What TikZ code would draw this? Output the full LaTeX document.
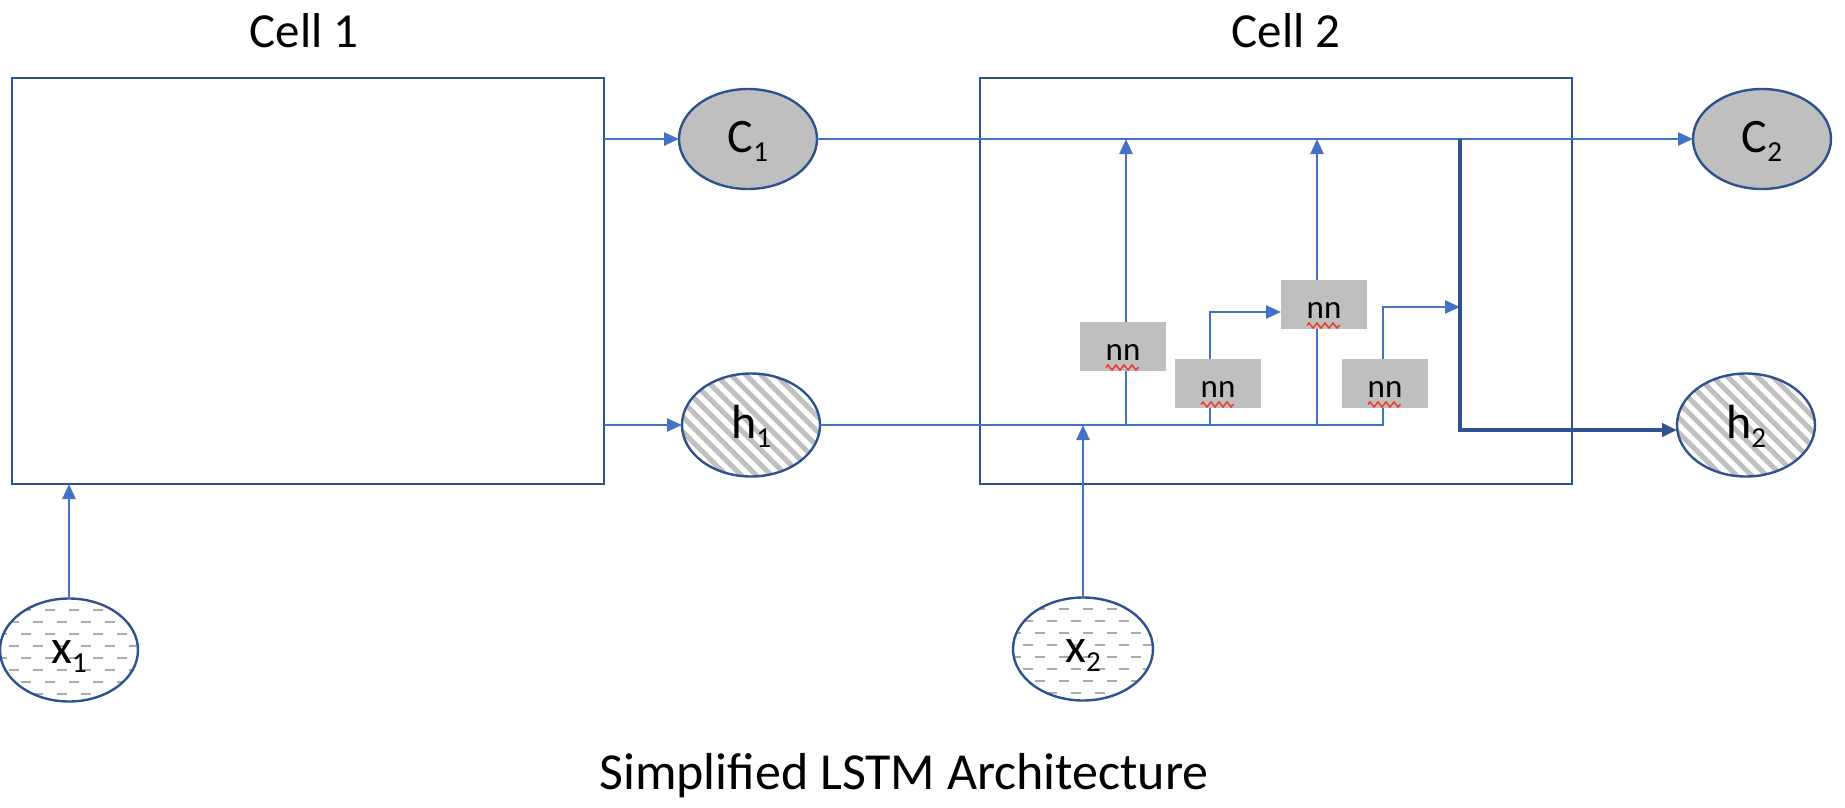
\documentclass[tikz,border=0pt]{standalone}
\usepackage{fontspec}
\setmainfont{Carlito}
\usetikzlibrary{arrows.meta,shapes.geometric,decorations.pathmorphing}
\definecolor{linkc}{RGB}{68,114,196}
\definecolor{bordc}{RGB}{47,82,143}
\definecolor{grayf}{RGB}{191,191,191}
\definecolor{stripec}{RGB}{192,192,192}
\definecolor{dashc}{RGB}{170,170,170}
\definecolor{squigc}{RGB}{232,62,40}
\newcommand\sbs[1]{\raisebox{-9pt}{\fontsize{29}{29}\selectfont #1}}
\begin{document}
\begin{tikzpicture}[x=1pt,y=-1pt,
  cellbox/.style={draw=bordc, line width=2.7pt, rectangle, minimum width=592pt, minimum height=406pt, inner sep=0pt, outer sep=0pt},
  oval/.style={ellipse, draw=bordc, line width=2.4pt, minimum width=138pt, minimum height=103pt, inner sep=0pt, outer sep=0pt, font=\fontsize{48}{50}\selectfont, text height=30pt, text depth=3pt},
  ovalC/.style={oval, fill=grayf, minimum height=100pt},
  ovalH/.style={oval, fill=white, path picture={
      \foreach \k in {-14,...,14}{
        \draw[line width=5pt, stripec] ([xshift=\k*15pt]path picture bounding box.center) ++(-90,-90) -- ++(180,180);}}},
  ovalX/.style={oval, fill=white, path picture={
      \foreach \r in {-4,-2,...,4}{
        \draw[line width=2pt, dashc, dash pattern=on 10pt off 14pt, dash phase=0pt]
          ([yshift={4pt-\r*12pt}]path picture bounding box.center) ++(-84,0) -- ++(168,0);}
      \foreach \r in {-5,-3,...,5}{
        \draw[line width=2pt, dashc, dash pattern=on 10pt off 14pt, dash phase=12pt]
          ([yshift={4pt-\r*12pt}]path picture bounding box.center) ++(-84,0) -- ++(168,0);}}},
  nnbox/.style={rectangle, fill=grayf, minimum width=86pt, minimum height=49pt, inner sep=0pt, outer sep=0pt, font=\fontsize{33}{34}\selectfont, text height=27pt, text depth=0pt},
  link/.style={draw=linkc, line width=2.5pt},
  linkarr/.style={link, -{Triangle[length=15pt,width=13pt]}},
  thicklink/.style={draw=bordc, line width=4.5pt, -{Triangle[length=15pt,width=13pt]}},
  squig/.style={draw=squigc, line width=1.5pt, decorate, decoration={zigzag, segment length=8pt, amplitude=2.5pt}},
  lbl/.style={font=\fontsize{49}{56}\selectfont, anchor=base, inner sep=0pt}
]
\useasboundingbox (0,0) rectangle (1845,808);

% titles
\node[lbl] (t1) at (304,48) {Cell 1};
\node[lbl] (t2) at (1286,48) {Cell 2};
\node[lbl, font=\fontsize{52}{60}\selectfont] (tt) at (904,789) {Simplified LSTM Architecture};

% cells
\node[cellbox] (cell1) at (308,281) {};
\node[cellbox] (cell2) at (1276,281) {};

% ovals
\node[ovalC] (C1) at (748,139) {C\sbs{1}};
\node[ovalH] (h1) at (751,425) {h\sbs{1}};
\node[ovalX] (x1) at (69,650) {x\sbs{1}};
\node[ovalX, minimum width=140pt] (x2) at (1083,649) {x\sbs{2}};
\node[ovalC] (C2) at (1762,139) {C\sbs{2}};
\node[ovalH] (h2) at (1746,425) {h\sbs{2}};

% nn boxes
\node[nnbox] (b1) at (1123,346.5) {nn};
\node[nnbox] (b2) at (1218,383.5) {nn};
\node[nnbox] (b3) at (1324,304.5) {nn};
\node[nnbox] (b4) at (1385,383.5) {nn};
\foreach \b in {b1,b2,b3,b4}
  \draw[squig] ([xshift=-17pt,yshift=-21pt]\b.center) -- ++(33,0);

% helper coordinates
\coordinate (s1t) at ([xshift=3pt]b1.north);
\coordinate (s1b) at ([xshift=3pt]b1.south);
\coordinate (s2t) at ([xshift=-8pt]b2.north);
\coordinate (s2b) at ([xshift=-8pt]b2.south);
\coordinate (s3t) at ([xshift=-7pt]b3.north);
\coordinate (s3b) at ([xshift=-7pt]b3.south);
\coordinate (s4t) at ([xshift=-2pt]b4.north);
\coordinate (s4b) at ([xshift=-2pt]b4.south);
\coordinate (b3in) at ([yshift=-7.5pt]b3.west);
\coordinate (cj) at (1460,139);
\coordinate (j4) at (1460,307);
\coordinate (h2in) at ([yshift=-5pt]h2.west);

% connectors cell 1
\draw[linkarr] (cell1.east |- C1.west) -- (C1.west);
\draw[linkarr] (cell1.east |- h1.west) -- (h1.west);
\draw[linkarr] (x1.north) -- (x1.north |- cell1.south);

% cell state line
\draw[linkarr] (C1.east) -- (C2.west);
% hidden line
\draw[link] (h1.east) -| (s4b);
\draw[linkarr] (x2.north) -- (x2.north |- h1.east);

% inside cell 2
\draw[link] (s1b) -- (s1b |- h1.east);
\draw[link] (s2b) -- (s2b |- h1.east);
\draw[link] (s3b) -- (s3b |- h1.east);
\draw[linkarr] (s1t) -- (s1t |- C1.east);
\draw[linkarr] (s3t) -- (s3t |- C1.east);
\draw[linkarr] (s2t) |- (b3in);
\draw[linkarr] (s4t) |- (j4);
\draw[thicklink] (cj) |- (h2in);
\end{tikzpicture}
\end{document}
